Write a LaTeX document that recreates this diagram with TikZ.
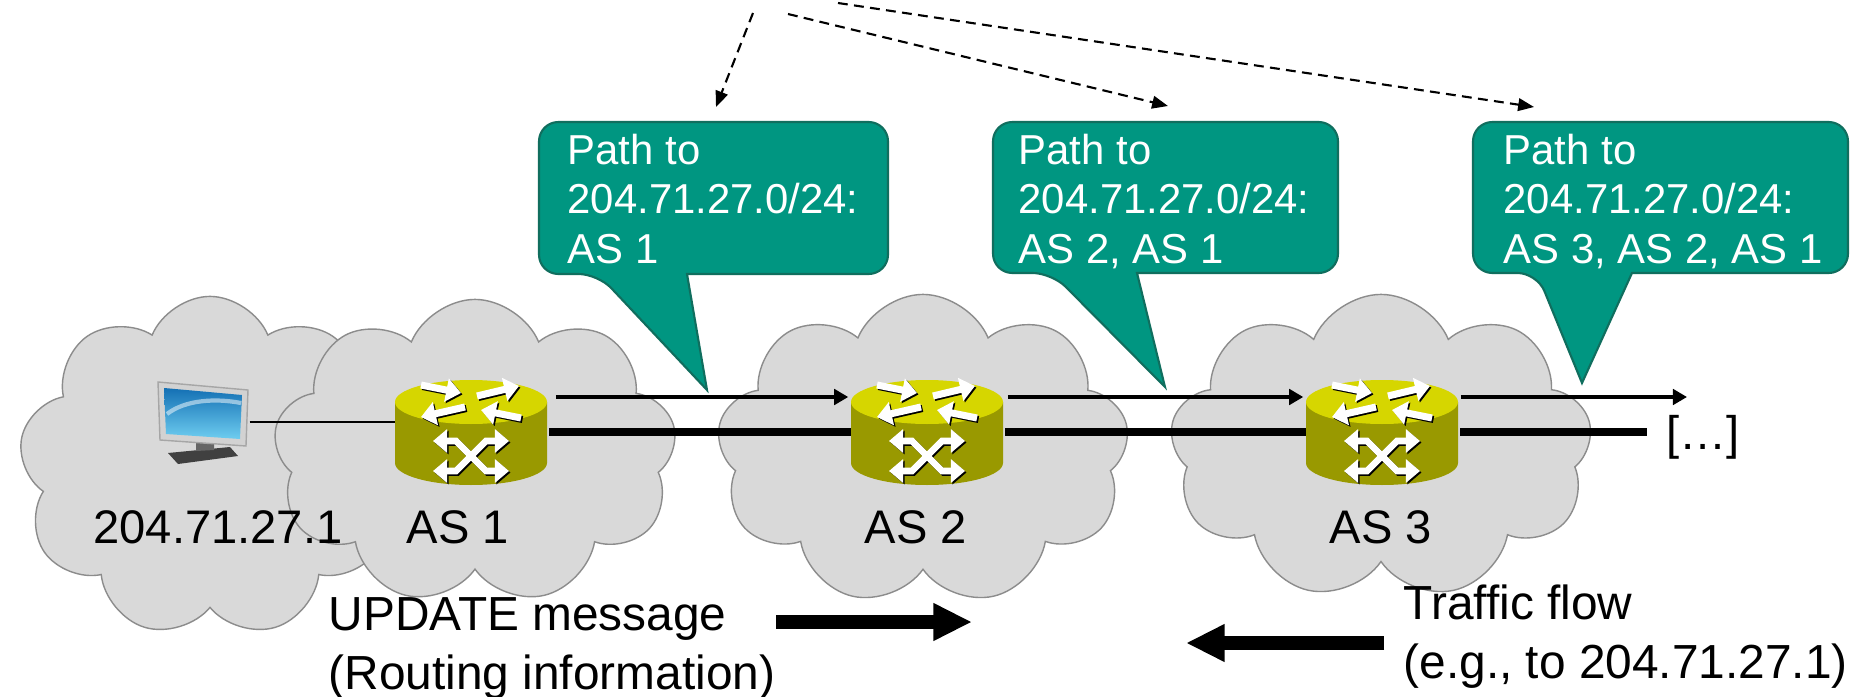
\documentclass[tikz,border=0pt]{standalone}
\usepackage[dvipsnames]{xcolor}
\usepackage{tikz}
\usetikzlibrary{positioning}
\usetikzlibrary{shapes.symbols,arrows.meta}
\usepackage{fontspec}
\setmainfont{Liberation Sans}

\definecolor{CloudGray}{RGB}{217,217,217}
\definecolor{CloudEdge}{RGB}{140,140,140}
\definecolor{BubbleTeal}{RGB}{0,150,129}
\definecolor{BubbleEdge}{RGB}{16,110,94}
\definecolor{RouterTop}{RGB}{214,214,0}
\definecolor{RouterSide}{RGB}{153,153,0}
\definecolor{ScreenDark}{RGB}{20,112,180}
\definecolor{ScreenLight}{RGB}{110,205,240}

\tikzset{
  asnet/.style={cloud, cloud puffs=9, cloud puff arc=135, cloud ignores aspect,
    fill=CloudGray, draw=CloudEdge, line width=0.4pt, inner sep=0pt},
  routerbox/.style={minimum width=1.52cm, minimum height=1.05cm, inner sep=0pt},
  rtmark/.style={line width=2pt, -{Triangle[length=4.2pt,width=6.5pt]}},
  rtcross/.style={line width=1.9pt, {Triangle[length=4pt,width=6.5pt]}-{Triangle[length=4pt,width=6.5pt]}},
  trunk/.style={line width=2.3pt},
  update/.style={line width=0.95pt, -{Triangle[length=4pt,width=4.4pt]}},
  hint/.style={line width=0.6pt, dash pattern=on 2.8pt off 1.8pt, -{Triangle[length=4.5pt,width=3.6pt]}},
  fat/.style={line width=3.7pt, -{Triangle[length=11pt,width=10pt]}},
  lbl/.style={font=\fontsize{13.4}{16}\selectfont, inner sep=0pt},
  note/.style={font=\fontsize{13.6}{16.8}\selectfont, align=left, anchor=north west, inner sep=0pt},
  bubtext/.style={text=white, font=\fontsize{11.9}{14.2}\selectfont, align=left, anchor=north west, inner sep=0pt},
  bubble/.style={fill=BubbleTeal, draw=BubbleEdge, line width=0.6pt, rounded corners=5.5pt}
}

% white marks on the router body
\newcommand{\rtmarks}{%
\draw[rtmark] (6,-36) -- (48,-46);
\draw[rtmark] (-6,-25) -- (-50,-15);
\draw[rtmark] (-50,-47) -- (-10,-39);
\draw[rtmark] (50,-14) -- (10,-22);
\draw[rtcross] (-38,9) -- (-15,9) -- (15,39) -- (38,39);
\draw[rtcross] (-38,39) -- (-15,39) -- (15,9) -- (38,9);}

% router cylinder: name, x, y
\newcommand{\router}[3]{%
\node[routerbox] (#1) at (#2,#3) {};
\begin{scope}[shift={(#2,#3)}]
\fill[RouterSide] (-76,-30) -- (-76,31) arc[start angle=180,end angle=0,x radius=76,y radius=22] -- (76,-30) -- cycle;
\fill[RouterTop] (0,-30) ellipse[x radius=76,y radius=22];
\begin{scope}[shift={(1.5,1.5)},black]\rtmarks\end{scope}
\begin{scope}[white]\rtmarks\end{scope}
\end{scope}}

\begin{document}
\begin{tikzpicture}[x=0.01cm,y=-0.01cm]
\fill[white] (0,0) rectangle (1850,697);
\useasboundingbox (0,0) rectangle (1850,697);

% the autonomous systems
\node[asnet, minimum width=3.82cm, minimum height=3.41cm] (net0) at (210,467) {};
\node[asnet, minimum width=4.03cm, minimum height=3.05cm] (net1) at (475,452) {};
\node[asnet, minimum width=4.12cm, minimum height=3.11cm] (net2) at (923,450) {};
\node[asnet, minimum width=4.22cm, minimum height=3.05cm] (net3) at (1381,447) {};

\node[minimum width=0.9cm, minimum height=0.8cm, inner sep=0pt] (host) at (204,422) {};
\coordinate (tailThin) at (1687,397);
\coordinate (tailThick) at (1647,432);

% links
\draw[line width=0.85pt] (host.east) -- (host.east -| 395,0);
\draw[trunk] (549,432) -- (851,432);
\draw[trunk] (1005,432) -- (1306,432);
\draw[trunk] (1460,432) -- (tailThick);

\router{r1}{471}{432}
\router{r2}{927}{432}
\router{r3}{1382}{432}

\draw[update] ([shift={(8,-35)}]r1.east) -- ([shift={(-2,-35)}]r2.west);
\draw[update] ([shift={(4,-35)}]r2.east) -- ([shift={(-2,-35)}]r3.west);
\draw[update] ([shift={(2,-35)}]r3.east) -- (tailThin);

% monitor
\fill[black!75] (168,453) -- (230,447) -- (238,456) -- (178,464) -- cycle;
\fill[black!60] (196,440) -- (214,441) -- (214,450) -- (196,451) -- cycle;
\fill[gray!35] (158,382) -- (248,390) -- (246,446) -- (160,440) -- cycle;
\draw[gray!70, line width=0.4pt] (158,382) -- (248,390) -- (246,446) -- (160,440) -- cycle;
\shade[top color=ScreenDark, bottom color=ScreenLight] (164,388) -- (242,395) -- (240,439) -- (166,434) -- cycle;
\draw[white, opacity=0.5, line width=1.2pt] (167,414) .. controls (185,400) and (215,398) .. (241,403);

\node[lbl] (hostip) at (218,527) {204.71.27.1};
\node[lbl] (as1) at (458,527) {AS 1};
\node[lbl] (as2) at (916,527) {AS 2};
\node[lbl] (as3) at (1381,527) {AS 3};
\node[lbl] (more) at (1703,437) {[…]};

% speech bubbles
\draw[bubble] (713,122) -- (539,122) -- (539,274) -- (598,274) [sharp corners] -- (707,390) -- (687,274) [rounded corners=5.5pt] -- (888,274) -- (888,122) -- cycle;
\node[bubtext] (pathA) at (567,133) {Path to\\204.71.27.0/24:\\AS 1};

\draw[bubble] (1165,122) -- (993,122) -- (993,273) -- (1052,273) [sharp corners] -- (1165,387) -- (1137,273) [rounded corners=5.5pt] -- (1338,273) -- (1338,122) -- cycle;
\node[bubtext] (pathB) at (1018,133) {Path to\\204.71.27.0/24:\\AS 2, AS 1};

\draw[bubble] (1660,122) -- (1473,122) -- (1473,273) -- (1537,273) [sharp corners] -- (1582,383) -- (1632,273) [rounded corners=5.5pt] -- (1848,273) -- (1848,122) -- cycle;
\node[bubtext] (pathC) at (1503,133) {Path to\\204.71.27.0/24:\\AS 3, AS 2, AS 1};

\coordinate (srcA) at (753,13);
\coordinate (srcB) at (788,14);
\coordinate (srcC) at (838,3);
\coordinate (tipA) at (716,107);
\coordinate (tipB) at (1168,106);
\coordinate (tipC) at (1534,107);
\draw[hint] (srcA) -- (tipA);
\draw[hint] (srcB) -- (tipB);
\draw[hint] (srcC) -- (tipC);

% legend
\node[note] (upd) at (328,597) {UPDATE message\\(Routing information)};
\node[note] (traffic) at (1403,584) {Traffic flow\\(e.g., to 204.71.27.1)};
\coordinate (updL) at (776,622);
\coordinate (updR) at (972,622);
\coordinate (flowR) at (1384,643);
\coordinate (flowL) at (1186,643);
\draw[fat] (updL) -- (updR);
\draw[fat] (flowR) -- (flowL);
\end{tikzpicture}
\end{document}
